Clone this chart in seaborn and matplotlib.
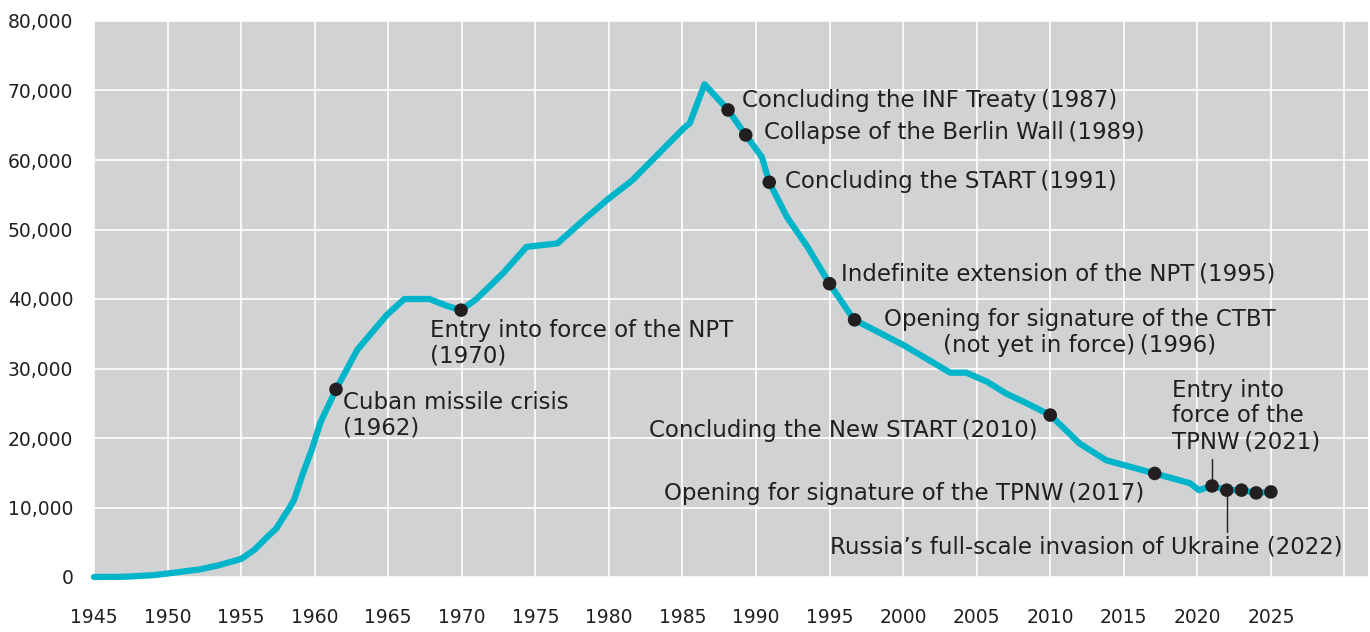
"""
Global nuclear warhead stockpile, 1945-2025, with key arms-control events.
"""

import numpy as np
import pandas as pd
import matplotlib
matplotlib.use('Agg')
import matplotlib.pyplot as plt
import seaborn as sns
from matplotlib.ticker import FuncFormatter

# Stockpile curve (year, warheads)
years = [1945, 1947, 1949, 1950, 1952.2, 1953.5, 1955, 1955.9, 1956.7, 1957.4,
         1957.9, 1958.3, 1958.6, 1959.2, 1959.8, 1960.4, 1961.45, 1962.9, 1964.9,
         1966.1, 1967.8, 1969.0, 1969.95, 1971.0, 1972.8, 1974.4, 1976.5, 1978.3,
         1979.9, 1981.6, 1985.1, 1985.5, 1986.5, 1988.1, 1989.3, 1990.4, 1990.9,
         1992.1, 1993.5, 1995.0, 1996.5, 1996.7, 2000.0, 2003.2, 2004.3, 2005.7,
         2007.0, 2008.4, 2010.0, 2012.0, 2013.8, 2017.1, 2019.5, 2020.1, 2021.0,
         2022.0, 2023.0, 2024.0, 2025.0]
warheads = [0, 30, 250, 500, 1100, 1700, 2600, 3900, 5600, 7000,
            8700, 10000, 11100, 14900, 18300, 22300, 27000, 32700, 37700,
            40000, 40000, 39000, 38400, 40000, 43700, 47500, 48000, 51400,
            54300, 57100, 64600, 65300, 70900, 67200, 63600, 60400, 56800,
            51800, 47500, 42200, 37500, 37000, 33400, 29400, 29400, 28100,
            26400, 25000, 23300, 19200, 16800, 14900, 13500, 12500, 13100,
            12500, 12500, 12100, 12240]

# Event markers
event_years = [1961.45, 1969.95, 1988.1, 1989.3, 1990.9, 1995.0, 1996.7,
               2010.0, 2017.1, 2021.0, 2022.0, 2023.0, 2024.0, 2025.0]
event_values = [27000, 38400, 67200, 63600, 56800, 42200, 37000,
                23300, 14900, 13100, 12500, 12500, 12100, 12240]

labels = [
    "Cuban missile crisis\n(1962)",
    "Entry into force of the NPT\n(1970)",
    "Concluding the INF Treaty\u2009(1987)",
    "Collapse of the Berlin Wall\u2009(1989)",
    "Concluding the START\u2009(1991)",
    "Indefinite extension of the NPT\u2009(1995)",
    "Opening for signature of the CTBT\n(not yet in force)\u2009(1996)",
    "Concluding the New START\u2009(2010)",
    "Opening for signature of the TPNW\u2009(2017)",
    "Entry into\nforce of the\nTPNW\u2009(2021)",
    "Russia’s full-scale invasion of Ukraine (2022)",
]

x_ticks = list(range(1945, 2031, 5))
x_tick_labels = [str(y) if y <= 2025 else "" for y in x_ticks]
y_ticks = list(range(0, 80001, 10000))

LINE_COLOR = '#00b5c9'
INK = '#231f20'
BG = '#d1d2d4'

sns.set_theme(style="darkgrid", rc={
    'axes.facecolor': BG,
    'grid.color': 'white',
    'grid.linewidth': 1.2,
})
plt.rcParams['font.family'] = ['DejaVu Sans', 'Noto Sans CJK JP']

df = pd.DataFrame({'year': years, 'warheads': warheads})
ev = pd.DataFrame({'year': event_years, 'warheads': event_values})

fig = plt.figure(figsize=(13.7, 6.32), dpi=100)
ax = fig.add_axes([94 / 1370, 1 - 577 / 632, (1368 - 94) / 1370, (577 - 21) / 632])

sns.lineplot(data=df, x='year', y='warheads', ax=ax, color=LINE_COLOR,
             linewidth=4.5, solid_capstyle='round', solid_joinstyle='round',
             clip_on=False)

# leader lines for the 2021 / 2022 labels
ax.plot([2021, 2021], [13100, 17000], color=INK, linewidth=1.0, zorder=3)
ax.plot([2022, 2022], [12500, 6500], color=INK, linewidth=1.0, zorder=3)

sns.scatterplot(data=ev, x='year', y='warheads', ax=ax, color=INK, s=95,
                edgecolor='none', zorder=5, clip_on=False)

# label placement: (event index, dx, dy in pixels, ha)
placements = [
    (0, 7, -26, 'left'),
    (1, -31, -33, 'left'),
    (2, 14, 9, 'left'),
    (3, 18, 2, 'left'),
    (4, 16, 1, 'left'),
    (5, 11, 10, 'left'),
    (6, 225, -13, 'center'),
    (7, -13, -15, 'right'),
    (8, -10, -20, 'right'),
    (9, -40, 70, 'left'),
    (10, 116, -57, 'right'),
]
for text, (i, dx, dy, ha) in zip(labels, placements):
    ax.annotate(text, xy=(event_years[i], event_values[i]), xytext=(dx, dy),
                textcoords='offset pixels', ha=ha, va='center',
                multialignment=ha, linespacing=1.15,
                fontsize=16.5, color=INK, zorder=6)

ax.set_xlim(1945, 2031.6)
ax.set_ylim(0, 80000)
ax.set_xticks(x_ticks)
ax.set_xticklabels(x_tick_labels)
ax.set_yticks(y_ticks)
ax.yaxis.set_major_formatter(FuncFormatter(lambda v, p: f"{int(v):,}"))
ax.tick_params(axis='x', length=0, pad=22, labelsize=13.5, labelcolor=INK)
ax.tick_params(axis='y', length=0, pad=15, labelsize=13.5, labelcolor=INK)
ax.set_xlabel('')
ax.set_ylabel('')
for s in ax.spines.values():
    s.set_visible(False)

fig.savefig('out.png', dpi=100, facecolor='white')
plt.close(fig)
